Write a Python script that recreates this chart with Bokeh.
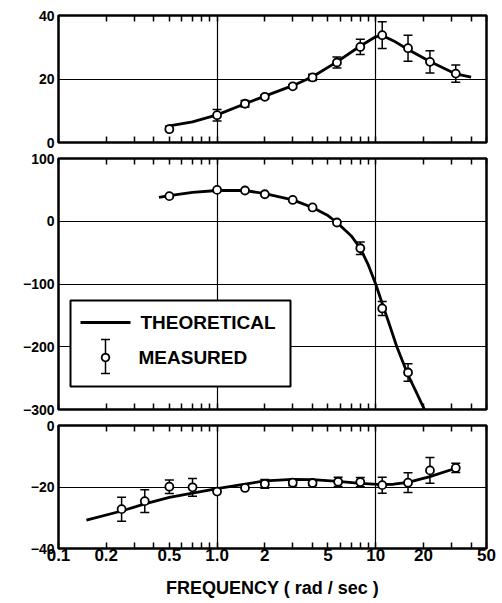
import numpy as np
from bokeh.plotting import figure
from bokeh.layouts import column
from bokeh.models import (Range1d, FixedTicker, LogAxis, Whisker, TeeHead,
                          ColumnDataSource, BoxAnnotation, Label, Arrow, PolyAnnotation,
                          CustomJSTickFormatter)
from bokeh.embed import file_html
from bokeh.resources import INLINE

# ---------------- data ----------------
# top panel (amplitude)
mag_freq = [0.5, 1.0, 1.5, 2.0, 3.0, 4.0, 5.7, 8.0, 11.0, 16.0, 22.0, 32.0]
mag_meas = [4.2, 8.6, 12.2, 14.4, 17.7, 20.5, 25.2, 30.1, 33.8, 29.7, 25.4, 21.7]
mag_err = [0.0, 1.8, 1.0, 0.6, 0.5, 1.0, 1.7, 2.4, 4.2, 4.1, 3.5, 2.7]
mag_theo_freq = [0.47, 0.5, 0.7, 1.0, 1.5, 2.0, 3.0, 4.0, 5.7, 8.0, 10.0, 11.0, 13.0, 16.0, 22.0, 32.0, 40.0]
mag_theo = [4.9, 5.2, 6.5, 8.7, 12.2, 14.6, 17.9, 20.7, 25.4, 30.4, 33.3, 33.7, 32.0, 29.3, 25.5, 21.6, 20.6]
mag_yticks = [0, 20, 40]

# middle panel (phase)
ph_freq = [0.5, 1.0, 1.5, 2.0, 3.0, 4.0, 5.7, 8.0, 11.0, 16.0]
ph_meas = [40, 50, 49, 43, 34, 22, -2, -43, -139, -241]
ph_err = [0, 0, 0, 0, 0, 0, 0, 10, 11, 14]
ph_theo_freq = [0.43, 0.5, 0.7, 1.0, 1.5, 2.0, 3.0, 4.0, 5.0, 5.7, 7.0, 8.0, 9.0, 10.0,
                11.0, 12.0, 13.6, 16.0, 18.0, 20.3]
ph_theo = [38, 41, 46, 49, 49, 44, 34, 22, 9, -2, -23, -43, -70, -100,
           -131, -159, -200, -245, -272, -300]
ph_yticks = [-300, -200, -100, 0, 100]

# bottom panel
lo_freq = [0.25, 0.35, 0.5, 0.7, 1.0, 1.5, 2.0, 3.0, 4.0, 5.8, 8.0, 11.0, 16.0, 22.0, 32.0]
lo_meas = [-27.2, -24.6, -19.9, -20.1, -21.5, -20.3, -19.0, -18.6, -18.7, -18.3, -18.4,
           -19.4, -18.6, -14.6, -13.8]
lo_err = [3.9, 3.7, 2.2, 2.9, 0.0, 0.0, 1.4, 1.0, 0.8, 1.5, 1.5, 2.6, 3.2, 4.2, 1.5]
lo_theo_freq = [0.15, 0.25, 0.35, 0.5, 0.7, 1.0, 1.5, 2.0, 3.0, 4.0, 5.8, 8.0, 11.0, 13.0,
                16.0, 22.0, 32.0]
lo_theo = [-30.8, -27.8, -25.5, -23.4, -22.0, -20.5, -19.1, -18.0, -17.5, -17.6, -18.2,
           -18.8, -19.2, -19.1, -18.5, -16.6, -13.9]
lo_yticks = [-40, -20, 0]

x_major = [0.1, 0.2, 0.5, 1, 2, 5, 10, 20, 50]
x_minor = [0.3, 0.4, 0.6, 0.7, 0.8, 0.9, 3, 4, 6, 7, 8, 9, 30, 40]
x_grid = [1, 10]
X_MIN, X_MAX = 0.1, 50

FONT = "Liberation Sans"

y_fmt = CustomJSTickFormatter(code="return tick < 0 ? '\u2212' + Math.abs(tick) : String(tick);")
x_fmt = CustomJSTickFormatter(code="return tick == 1 ? '1.0' : String(tick);")
blank_fmt = CustomJSTickFormatter(code="return '';")


def style_xaxis(ax, labels):
    ax.ticker = FixedTicker(ticks=x_major, minor_ticks=x_minor)
    ax.axis_line_color = None
    ax.major_tick_in = 6
    ax.major_tick_out = 0
    ax.minor_tick_in = 6
    ax.minor_tick_out = 0
    ax.major_tick_line_width = 1.5
    ax.minor_tick_line_width = 1.5
    ax.major_tick_line_color = "black"
    ax.minor_tick_line_color = "black"
    if labels:
        ax.formatter = x_fmt
        ax.major_label_text_font = FONT
        ax.major_label_text_font_style = "bold"
        ax.major_label_text_font_size = "17px"
        ax.major_label_text_color = "black"
        ax.major_label_standoff = 0
        ax.axis_label = "FREQUENCY ( rad / sec )"
        ax.axis_label_text_font = FONT
        ax.axis_label_text_font_style = "bold"
        ax.axis_label_text_font_size = "18px"
        ax.axis_label_text_color = "black"
        ax.axis_label_standoff = 14
    else:
        ax.formatter = blank_fmt
        ax.major_label_text_font_size = "0px"
        ax.major_label_text_color = None
        ax.major_label_standoff = 0


def style_yaxis(ya, ticks):
    ya.ticker = FixedTicker(ticks=ticks)
    ya.formatter = y_fmt
    ya.axis_line_color = None
    ya.major_tick_in = 0
    ya.major_tick_out = 0
    ya.minor_tick_line_color = None
    ya.major_label_text_font = FONT
    ya.major_label_text_font_style = "bold"
    ya.major_label_text_font_size = "14px"
    ya.major_label_text_color = "black"
    ya.major_label_standoff = 4


def make_fig(h, btop, bbot, yr, yticks, ygrid, labels):
    p = figure(width=496, height=h, x_axis_type="log", x_range=Range1d(X_MIN, X_MAX),
               y_range=Range1d(*yr), output_backend="svg", toolbar_location=None,
               min_border_left=58, min_border_right=10, min_border_top=btop,
               min_border_bottom=bbot)
    p.outline_line_color = "black"
    p.outline_line_width = 2.5
    p.outline_line_alpha = 1.0
    p.background_fill_color = "white"
    p.border_fill_color = "white"
    style_xaxis(p.xaxis[0], labels)
    top_ax = LogAxis()
    style_xaxis(top_ax, False)
    p.add_layout(top_ax, "above")
    style_yaxis(p.yaxis[0], yticks)
    p.xgrid.ticker = FixedTicker(ticks=x_grid)
    p.ygrid.ticker = FixedTicker(ticks=ygrid)
    p.grid.grid_line_color = "black"
    p.grid.grid_line_width = 1.2
    p.grid.grid_line_alpha = 1.0
    return p


def add_series(p, tf, tv, mf, mv, me):
    p.line(tf, tv, line_color="black", line_width=2.8)
    idx = [i for i, e in enumerate(me) if e > 0]
    src = ColumnDataSource(dict(base=[mf[i] for i in idx],
                                upper=[mv[i] + me[i] for i in idx],
                                lower=[mv[i] - me[i] for i in idx]))
    w = Whisker(source=src, base="base", upper="upper", lower="lower", dimension="height",
                line_color="black", line_width=1.5,
                upper_head=TeeHead(size=9, line_width=1.5, line_color="black"),
                lower_head=TeeHead(size=9, line_width=1.5, line_color="black"))
    p.add_layout(w)
    p.scatter(mf, mv, marker="circle", size=8, fill_color="white", line_color="black",
              line_width=1.8)


p1 = make_fig(150, 15, 8, (0, 40), mag_yticks, [20], False)
add_series(p1, mag_theo_freq, mag_theo, mag_freq, mag_meas, mag_err)

p2 = make_fig(267, 8, 8, (-300, 100), ph_yticks, [-200, -100, 0], False)
add_series(p2, ph_theo_freq, ph_theo, ph_freq, ph_meas, ph_err)

p3 = make_fig(185, 8, 54, (-40, 0), lo_yticks, [-20], True)
add_series(p3, lo_theo_freq, lo_theo, lo_freq, lo_meas, lo_err)

# ---------------- legend (drawn in screen units inside the middle frame) ----------------
S = "screen"
p2.add_layout(BoxAnnotation(left=12, right=232, top=109, bottom=23,
                            left_units=S, right_units=S, top_units=S, bottom_units=S,
                            fill_color="white", fill_alpha=1.0, line_color="black",
                            line_width=2, line_alpha=1.0))
p2.add_layout(Arrow(x_start=22, y_start=87, x_end=72, y_end=87, start_units=S, end_units=S,
                    start=None, end=None, line_color="black", line_width=3))
p2.add_layout(Label(x=82, y=87, x_units=S, y_units=S, text="THEORETICAL",
                    text_font=FONT, text_font_style="bold", text_font_size="19px",
                    text_baseline="middle", text_color="black"))
p2.add_layout(Arrow(x_start=47, y_start=36, x_end=47, y_end=70, start_units=S, end_units=S,
                    start=TeeHead(size=9, line_width=1.5, line_color="black"),
                    end=TeeHead(size=9, line_width=1.5, line_color="black"),
                    line_color="black", line_width=1.5))
ang = np.linspace(0, 2 * np.pi, 25)[:-1]
p2.add_layout(PolyAnnotation(xs=list(47 + 3.8 * np.cos(ang)), ys=list(52 + 3.8 * np.sin(ang)),
                             xs_units=S, ys_units=S, fill_color="white", fill_alpha=1.0,
                             line_color="black", line_width=1.8, line_alpha=1.0))
p2.add_layout(Label(x=80, y=52, x_units=S, y_units=S, text="MEASURED",
                    text_font=FONT, text_font_style="bold", text_font_size="19px",
                    text_baseline="middle", text_color="black"))

layout = column(p1, p2, p3, spacing=0)
open("out.html", "w").write(file_html(layout, INLINE))
